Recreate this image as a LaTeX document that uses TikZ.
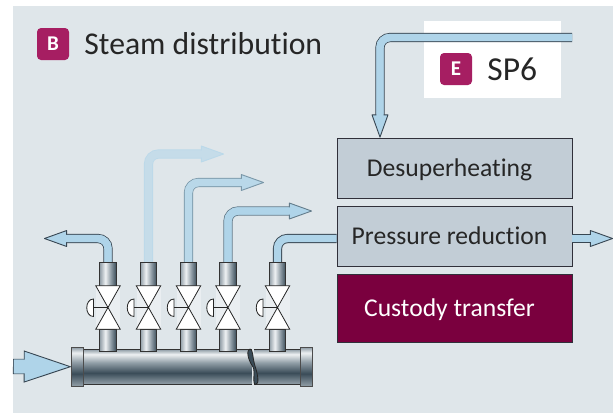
\documentclass[tikz,border=0pt]{standalone}
\usepackage{fontspec}
\setmainfont{Carlito}[Ligatures=NoCommon]
\usetikzlibrary{positioning, arrows.meta}
\definecolor{panelgray}{RGB}{223,230,234}
\definecolor{boxgray}{RGB}{194,205,214}
\definecolor{boxedge}{RGB}{48,48,58}
\definecolor{custody}{RGB}{122,0,62}
\definecolor{badge}{RGB}{166,30,98}
\definecolor{pipeblue}{RGB}{175,212,233}
\definecolor{pipeedge}{RGB}{55,70,82}
\definecolor{steeldark}{RGB}{58,76,88}
\definecolor{steelmid}{RGB}{145,158,167}
\definecolor{steellight}{RGB}{238,241,243}
\pgfdeclarehorizontalshading{stemshade}{100bp}{color(0bp)=(steelmid); color(25bp)=(steelmid); color(42bp)=(steellight); color(58bp)=(steelmid); color(75bp)=(steeldark); color(100bp)=(steeldark)}
\pgfdeclareverticalshading{bodyshade}{100bp}{color(0bp)=(steelmid); color(25bp)=(steelmid); color(41bp)=(steeldark); color(56bp)=(steelmid); color(68bp)=(steellight); color(75bp)=(steelmid); color(100bp)=(steelmid)}
\tikzset{
  pipe/.style 2 args={line width=7.4pt, draw=#2, rounded corners=10pt, line cap=butt,
    -{Triangle[length=24pt, width=17pt, line width=.9pt, color=#1, fill=#2, round=false]},
    preaction={draw=#1, line width=9.2pt, -, shorten >=22pt},
    postaction={draw=#2, line width=7.4pt, -, shorten >=18pt}},
  feed/.style 2 args={line width=7.4pt, draw=#2, rounded corners=10pt, line cap=butt,
    preaction={draw=#1, line width=9.2pt}},
  inletpipe/.style={line width=13.6pt, draw=pipeblue, shorten <=.9pt,
    -{Triangle[length=48pt, width=32pt, line width=.9pt, color=pipeedge, fill=pipeblue]},
    preaction={draw=pipeedge, line width=15.4pt, -, shorten >=44pt, shorten <=0pt},
    postaction={draw=pipeblue, line width=13.6pt, -, shorten >=44pt, shorten <=.9pt}},
  procbox/.style={draw=boxedge, fill=boxgray, line width=.9pt, minimum width=235pt, minimum height=60pt, inner sep=0pt, text=black!85, text height=18pt, text depth=2pt, font=\fontsize{25.6}{26}\selectfont, execute at end node={\hspace{10pt}}},
  badgebox/.style={fill=badge, rounded corners=4pt, minimum size=32pt, inner sep=0pt, text=white, font=\fontsize{21}{21}\selectfont\bfseries},
  titletext/.style={inner sep=0pt, text=black!85, font=\fontsize{31.7}{32}\selectfont},
  stemtube/.style={draw=black!80, shade, shading=stemshade, line width=.8pt, minimum width=16.5pt, inner sep=0pt, outer sep=0pt},
  flange/.style={draw=black!70, shade, shading=bodyshade, line width=.8pt, minimum width=11.5pt, minimum height=38.5pt, inner sep=0pt, outer sep=0pt}
}
\begin{document}
\begin{tikzpicture}[x=1pt, y=-1pt]
  \useasboundingbox (0,0) rectangle (613,413);
  % Background
  \fill[panelgray] (13,6) rectangle (613,413);
  \node[fill=white, minimum width=137pt, minimum height=77pt, inner sep=0pt] (spback) at (492.5,59.5) {};

  % Headings
  \node[badgebox] (badgeb) at (53,44) {B};
  \node[titletext, right=15pt of badgeb] (title) {Steam distribution};
  \node[badgebox] (badgee) at (456,69) {E};
  \node[titletext, right=15pt of badgee, font=\fontsize{33.5}{34}\selectfont] (sp) {SP6};

  % Process boxes
  \node[procbox] (desuper) at (454.5,168) {Desuperheating};
  \node[procbox, below=7.1pt of desuper] (pressure) {Pressure reduction};
  \node[procbox, below=7.1pt of pressure, fill=custody, minimum height=68pt, text=white] (transfer) {Custody transfer};

  % Free ends
  \coordinate (steamin) at (572,37.5);
  \coordinate (out1) at (44,238.5);
  \coordinate (out2) at (224,154);
  \coordinate (out3) at (264,182.5);
  \coordinate (out4) at (312,211);
  \coordinate (out5) at (613,238.5);
  \coordinate (inlet) at (13,366.5);
  \coordinate (pipe1) at (108,263);
  \coordinate (pipe2) at (148.5,263);
  \coordinate (pipe3) at (188.5,263);
  \coordinate (pipe4) at (228,263);
  \coordinate (pipe5) at (277.5,263);

  % Pipes
  \draw[pipe={pipeedge}{pipeblue}] (steamin) -| (desuper.north -| 380,0);
  \draw[pipe={pipeedge}{pipeblue}] (pipe1) |- (out1);
  \draw[pipe={pipeblue!75!panelgray}{pipeblue!55!panelgray}] (pipe2) |- (out2);
  \draw[pipe={pipeblue!55!steeldark}{pipeblue!80!panelgray}] (pipe3) |- (out3);
  \draw[pipe={pipeblue!35!steeldark}{pipeblue}] (pipe4) |- (out4);
  \draw[feed={pipeedge}{pipeblue}] (pipe5) |- (pressure.west |- 0,238.5);
  \draw[pipe={pipeedge}{pipeblue}] (pressure.east |- 0,238.5) -- (out5);

  % Manifold
  \node[draw=black!80, shade, shading=bodyshade, line width=.8pt, minimum width=220pt, minimum height=34.5pt, inner sep=0pt] (body) at (193,366.7) {};
  \fill[panelgray] (252,348) rectangle (254.3,385.5);
  \filldraw[fill=steeldark, draw=black!85, line width=.8pt] (250,349) .. controls (246.5,350) and (247,358) .. (253,367) .. controls (255.5,371) and (252,384) .. (255.5,384.5) .. controls (259.5,384.5) and (258,375) .. (255,366) .. controls (252.5,358) and (253,349) .. (250,349);
  \node[flange] (flangel) at (77.5,366.7) {};
  \node[flange] (flanger) at (306.5,366.7) {};
  \draw[inletpipe] (inlet) -- (flangel.west);

  % Valves
  \foreach \i/\x in {1/108, 2/148.5, 3/188.5, 4/228, 5/277.5} {
    \node[stemtube, minimum height=24pt] (stemup\i) at (\x,274) {};
    \node[stemtube, minimum height=22pt] (stemdown\i) at (\x,340) {};
    \node[fill=white, fill opacity=.35, minimum width=24pt, minimum height=43pt, inner sep=0pt] (valve\i) at (\x,307.5) {};
    \filldraw[fill=white, draw=black!85, line width=.8pt] (valve\i.north west) -- (valve\i.north east) -- (valve\i.south west) -- (valve\i.south east) -- cycle;
    \draw[black!85, line width=.8pt] (valve\i.center) -- ++(-14.5,0);
    \filldraw[fill=white, draw=black!85, line width=.8pt] (\x-14.5,299) .. controls (\x-23.5,299) and (\x-23.5,316.5) .. (\x-14.5,316.5) -- cycle;
  }
\end{tikzpicture}
\end{document}
